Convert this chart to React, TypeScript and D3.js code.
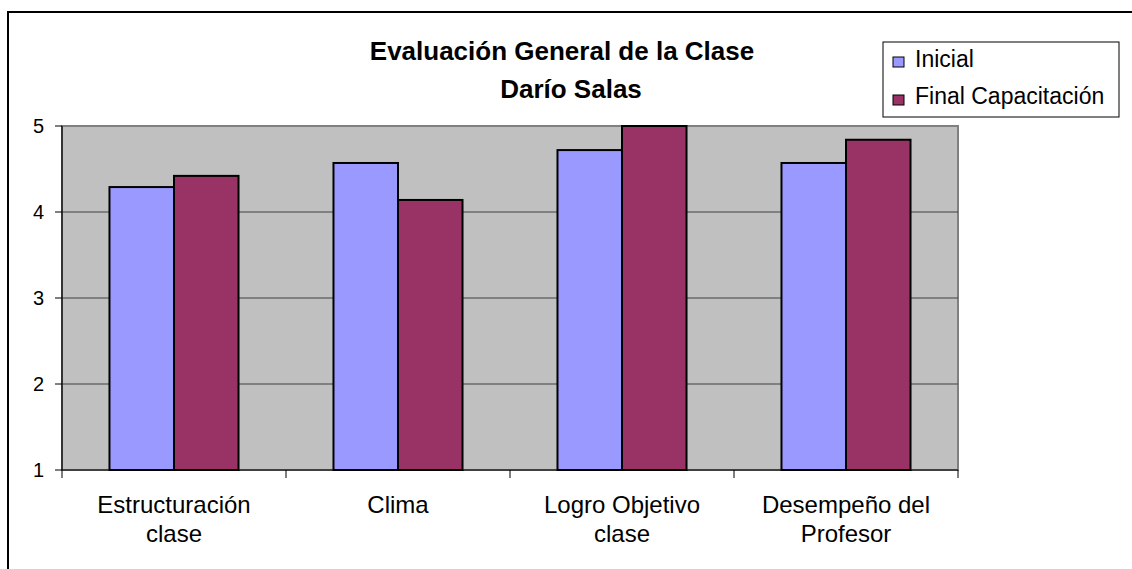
import React from "react";
import * as d3 from "d3";

const categories = [
  ["Estructuración", "clase"],
  ["Clima"],
  ["Logro Objetivo", "clase"],
  ["Desempeño del", "Profesor"],
];
const seriesNames = ["Inicial", "Final Capacitación"];
const inicial = [4.29, 4.57, 4.72, 4.57];
const finalCap = [4.42, 4.14, 5.0, 4.84];
const yTicks = [1, 2, 3, 4, 5];
const colors = ["#9999FF", "#993366"];

export default function App() {
  const W = 1132, H = 569;
  const left = 62, right = 958, top = 126, bottom = 470;
  const font = "'Liberation Sans', Arial, sans-serif";
  const keys = categories.map((c, i) => String(i));
  const x = d3.scaleBand().domain(keys).range([left, right]).paddingInner(0).paddingOuter(0);
  const inner = d3.scaleBand().domain(["0", "1"]).range([0, x.bandwidth()]).paddingInner(0).paddingOuter(0.736);
  const y = d3.scaleLinear().domain([1, 5]).range([bottom, top]);
  const series = [inicial, finalCap];
  const boundaries = [...keys.map((k) => x(k) as number), right];

  return (
    <svg width={W} height={H} style={{ position: "fixed", left: 0, top: 0, background: "#fff" }} fontFamily={font}>
      <rect x={0} y={0} width={W} height={H} fill="#fff" />
      <rect x={8} y={12} width={1300} height={800} fill="none" stroke="#000" strokeWidth={2} />
      <rect x={left} y={top} width={right - left} height={bottom - top} fill="#C0C0C0" stroke="#808080" strokeWidth={2} />
      {yTicks.map((t) => (
        <g key={t}>
          {t > 1 && t < 5 && <line x1={left} x2={right} y1={y(t)} y2={y(t)} stroke="#404040" strokeWidth={1.2} />}
          <line x1={left - 7} x2={left} y1={y(t)} y2={y(t)} stroke="#000" strokeWidth={1} />
          <text x={44} y={y(t) + 7} textAnchor="end" fontSize={20} fill="#000">{t}</text>
        </g>
      ))}
      {series.map((vals, si) =>
        vals.map((v, ci) => {
          const bx = (x(String(ci)) as number) + (inner(String(si)) as number);
          return (
            <rect key={`${si}-${ci}`} x={bx} y={y(v)} width={inner.bandwidth()} height={y(1) - y(v)}
              fill={colors[si]} stroke="#000" strokeWidth={2} />
          );
        })
      )}
      <line x1={left} x2={left} y1={top} y2={bottom} stroke="#000" strokeWidth={1.2} />
      <line x1={left} x2={right} y1={bottom} y2={bottom} stroke="#000" strokeWidth={1.2} />
      {boundaries.map((b, i) => (
        <line key={i} x1={b} x2={b} y1={bottom} y2={bottom + 8} stroke="#000" strokeWidth={1} />
      ))}
      {categories.map((lines, i) => {
        const cx = (x(String(i)) as number) + x.bandwidth() / 2;
        return (
          <text key={i} x={cx} textAnchor="middle" fontSize={24} fill="#000">
            {lines.map((l, j) => (
              <tspan key={j} x={cx} y={513 + j * 29}>{l}</tspan>
            ))}
          </text>
        );
      })}
      <text x={562} y={60} textAnchor="middle" fontSize={26} fontWeight="bold" fill="#000">Evaluación General de la Clase</text>
      <text x={571} y={98} textAnchor="middle" fontSize={26} fontWeight="bold" fill="#000">Darío Salas</text>
      <rect x={883} y={42} width={236} height={75} fill="#fff" stroke="#000" strokeWidth={1} />
      {seriesNames.map((n, i) => (
        <g key={n}>
          <rect x={893} y={57 + i * 38} width={11} height={10} fill={colors[i]} stroke="#000" strokeWidth={1} />
          <text x={915} y={67 + i * 37} fontSize={23} fill="#000">{n}</text>
        </g>
      ))}
    </svg>
  );
}
